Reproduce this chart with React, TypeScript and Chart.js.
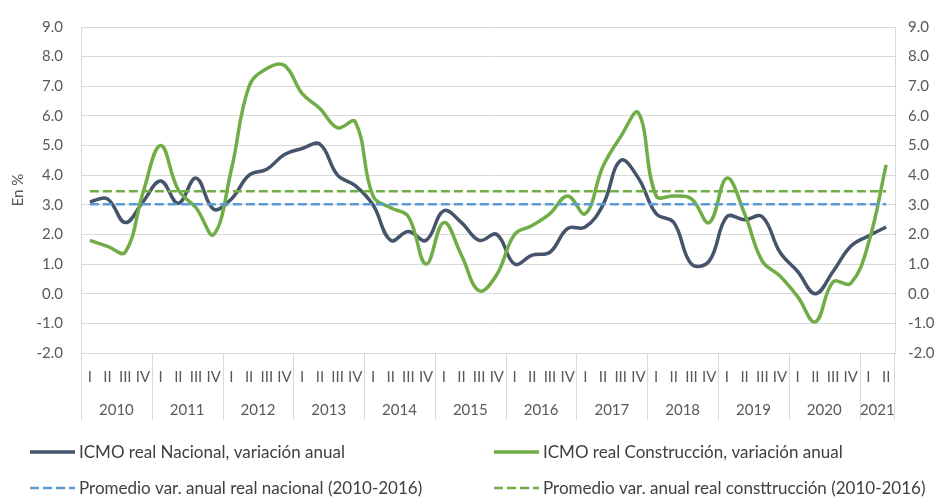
import React, { useEffect, useRef } from "react";
import { Chart, registerables } from "chart.js";

Chart.register(...registerables);

const years = ["2010", "2011", "2012", "2013", "2014", "2015", "2016", "2017", "2018", "2019", "2020", "2021"];
const quartersPerYear = [4, 4, 4, 4, 4, 4, 4, 4, 4, 4, 4, 2];

const quarterLabels = [
  "I", "II", "III", "IV", "I", "II", "III", "IV", "I", "II", "III", "IV",
  "I", "II", "III", "IV", "I", "II", "III", "IV", "I", "II", "III", "IV",
  "I", "II", "III", "IV", "I", "II", "III", "IV", "I", "II", "III", "IV",
  "I", "II", "III", "IV", "I", "II", "III", "IV", "I", "II",
];

const nacional = [
  3.1, 3.2, 2.4, 3.1,
  3.8, 3.05, 3.9, 2.85,
  3.2, 4.0, 4.2, 4.7,
  4.9, 5.05, 4.0, 3.65,
  3.0, 1.8, 2.1, 1.8,
  2.8, 2.4, 1.8, 2.0,
  1.0, 1.3, 1.4, 2.2,
  2.25, 3.0, 4.5, 3.9,
  2.7, 2.4, 1.0, 1.1,
  2.6, 2.5, 2.6, 1.4,
  0.75, 0.0, 0.75, 1.6,
  1.95, 2.25,
];

const construccion = [
  1.8, 1.6, 1.4, 3.4,
  5.0, 3.5, 2.9, 2.0,
  4.2, 7.0, 7.6, 7.7,
  6.75, 6.25, 5.6, 5.8,
  3.3, 2.9, 2.6, 1.0,
  2.4, 1.3, 0.1, 0.65,
  2.0, 2.3, 2.7, 3.3,
  2.7, 4.3, 5.3, 6.1,
  3.3, 3.3, 3.2, 2.4,
  3.9, 2.7, 1.1, 0.6,
  -0.1, -0.95, 0.4, 0.35,
  1.7, 4.35,
];

const promedioNacional = 3.02;
const promedioConstruccion = 3.46;

const seriesNames = [
  "ICMO real Nacional, variación anual",
  "ICMO real Construcción, variación anual",
  "Promedio var. anual real nacional (2010-2016)",
  "Promedio var. anual real consttrucción (2010-2016)",
];

const FONT = "Lato, 'Noto Sans', sans-serif";
const TEXT = "#595959";
const GRID = "#d9d9d9";

const groupsPlugin = {
  id: "groupsAndLegend",
  afterDraw(chart: any) {
    const ctx = chart.ctx;
    const xs = chart.scales.x;
    const area = chart.chartArea;
    const w = xs.getPixelForValue(1) - xs.getPixelForValue(0);
    const lineBottom = area.bottom + 67;
    ctx.save();
    ctx.strokeStyle = GRID;
    ctx.lineWidth = 1;
    ctx.fillStyle = TEXT;
    ctx.font = `15px ${FONT}`;
    ctx.textAlign = "center";
    ctx.textBaseline = "middle";
    let start = 0;
    years.forEach((yr, gi) => {
      const n = quartersPerYear[gi];
      const left = Math.round(xs.getPixelForValue(start) - w / 2) + 0.5;
      ctx.beginPath();
      ctx.moveTo(left, area.bottom);
      ctx.lineTo(left, lineBottom);
      ctx.stroke();
      const center = (xs.getPixelForValue(start) + xs.getPixelForValue(start + n - 1)) / 2;
      ctx.fillText(yr, center, area.bottom + 57);
      start += n;
    });
    const right = Math.round(xs.getPixelForValue(start - 1) + w / 2) - 0.5;
    ctx.beginPath();
    ctx.moveTo(right, area.bottom);
    ctx.lineTo(right, lineBottom);
    ctx.stroke();

    // legend
    const cols = [30, 494];
    const rows = [452, 488];
    ctx.textAlign = "left";
    ctx.font = `17px ${FONT}`;
    chart.data.datasets.forEach((ds: any, i: number) => {
      const x0 = cols[i % 2];
      const y0 = rows[Math.floor(i / 2)];
      ctx.strokeStyle = ds.borderColor;
      ctx.lineWidth = ds.borderWidth;
      ctx.setLineDash(ds.borderDash || []);
      ctx.beginPath();
      ctx.moveTo(x0, y0);
      ctx.lineTo(x0 + 45, y0);
      ctx.stroke();
      ctx.setLineDash([]);
      ctx.fillStyle = "#404040";
      ctx.fillText(ds.label, x0 + 49, y0 + 1);
    });
    ctx.restore();
  },
};

export default function App() {
  const ref = useRef<HTMLCanvasElement>(null);
  useEffect(() => {
    const canvas = ref.current;
    if (!canvas) return;
    const chart = new Chart(canvas, {
      type: "line",
      data: {
        labels: quarterLabels,
        datasets: [
          {
            label: seriesNames[0],
            data: nacional,
            borderColor: "#44546a",
            borderWidth: 3.5,
            pointRadius: 0,
            tension: 0.4,
            fill: false,
            order: 3,
          },
          {
            label: seriesNames[1],
            data: construccion,
            borderColor: "#70ad47",
            borderWidth: 3.5,
            pointRadius: 0,
            tension: 0.4,
            fill: false,
            order: 2,
          },
          {
            label: seriesNames[2],
            data: quarterLabels.map(() => promedioNacional),
            borderColor: "#5b9bd5",
            borderWidth: 2.5,
            borderDash: [9, 4],
            pointRadius: 0,
            fill: false,
            order: 1,
          },
          {
            label: seriesNames[3],
            data: quarterLabels.map(() => promedioConstruccion),
            borderColor: "#70ad47",
            borderWidth: 2.5,
            borderDash: [9, 4],
            pointRadius: 0,
            fill: false,
            order: 0,
          },
        ],
      },
      options: {
        responsive: false,
        animation: false,
        layout: { padding: { top: 16, left: 0, right: 0, bottom: 0 } },
        plugins: {
          legend: { display: false },
          tooltip: { enabled: false },
        },
        scales: {
          x: {
            type: "category",
            offset: true,
            grid: { display: false, drawTicks: false },
            border: { display: false },
            ticks: {
              autoSkip: false,
              maxRotation: 0,
              minRotation: 0,
              padding: 15,
              color: TEXT,
              font: { family: FONT, size: 15 },
            },
            afterFit: (s: any) => {
              s.height = 145;
            },
          },
          y: {
            position: "left",
            min: -2,
            max: 9,
            ticks: {
              stepSize: 1,
              padding: 18,
              color: TEXT,
              font: { family: FONT, size: 15 },
              callback: (v: any) => Number(v).toFixed(1),
            },
            grid: { color: GRID, drawTicks: false },
            border: { display: true, color: GRID },
            title: {
              display: true,
              text: "En %",
              color: TEXT,
              font: { family: FONT, size: 15 },
              padding: { top: 9, bottom: 0 },
            },
            afterFit: (s: any) => {
              s.width = 81;
            },
          },
          y2: {
            position: "right",
            min: -2,
            max: 9,
            ticks: {
              stepSize: 1,
              padding: 13,
              color: TEXT,
              font: { family: FONT, size: 15 },
              callback: (v: any) => Number(v).toFixed(1),
            },
            grid: { display: false, drawTicks: false },
            border: { display: true, color: GRID },
            afterFit: (s: any) => {
              s.width = 47;
            },
          },
        },
      },
      plugins: [groupsPlugin],
    } as any);
    return () => chart.destroy();
  }, []);

  return (
    <div style={{ position: "absolute", left: 0, top: 0, width: 942, height: 498, background: "#fff" }}>
      <canvas ref={ref} width={942} height={498} style={{ display: "block" }} />
    </div>
  );
}
